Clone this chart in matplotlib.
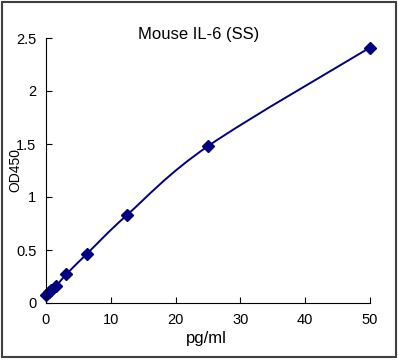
import numpy as np
import matplotlib.pyplot as plt
from matplotlib.patches import Rectangle, PathPatch
from matplotlib.path import Path

plt.rcParams['font.family'] = ['Liberation Sans', 'DejaVu Sans']

# standard curve data
conc = [0, 0.39, 0.78, 1.56, 3.125, 6.25, 12.5, 25, 50]
od = [0.08, 0.10, 0.12, 0.16, 0.27, 0.46, 0.83, 1.48, 2.41]
xticks = [0, 10, 20, 30, 40, 50]
yticks = [0, 0.5, 1, 1.5, 2, 2.5]

fig = plt.figure(figsize=(3.98, 3.6), dpi=100)
ax = fig.add_axes([46/398, 1-303/360, 324/398, 265/360])

# smoothed line (spreadsheet style bezier through the points)
pts = np.column_stack([conc, od])
n = len(pts)
verts = [pts[0]]
codes = [Path.MOVETO]
for i in range(n - 1):
    p0 = pts[max(i - 1, 0)]
    p1 = pts[i]
    p2 = pts[i + 1]
    p3 = pts[min(i + 2, n - 1)]
    verts += [p1 + (p2 - p0) / 6, p2 - (p3 - p1) / 6, p2]
    codes += [Path.CURVE4] * 3
ax.add_patch(PathPatch(Path(verts, codes), fill=False, edgecolor='#000080', lw=1.4, clip_on=False))
ax.plot(conc, od, 'D', color='#000080', ms=6, clip_on=False)

ax.set_xlim(0, 50)
ax.set_ylim(0, 2.5)
ax.set_xticks(xticks)
ax.set_xticklabels([str(t) for t in xticks])
ax.set_yticks(yticks)
ax.set_yticklabels(['0', '0.5', '1', '1.5', '2', '2.5'])
ax.tick_params(direction='in', length=4, labelsize=10.5, pad=7)
ax.spines['top'].set_visible(False)
ax.spines['right'].set_visible(False)
ax.set_xlabel('pg/ml', fontsize=12)
ax.xaxis.set_label_coords((206-46)/324, -(331-303)/265)
ax.set_ylabel('OD450', fontsize=10)
ax.yaxis.set_label_coords(-(46-22)/324, 0.5)

fig.text(0.5, 1-35/360, 'Mouse IL-6 (SS)', ha='center', va='center', fontsize=12)

# frame around the whole chart
fig.patches.append(Rectangle((1.5/398, 3/360), 394.5/398, 355/360, transform=fig.transFigure,
                             fill=False, edgecolor='#404040', lw=1.5))

fig.savefig('out.png', dpi=100)
